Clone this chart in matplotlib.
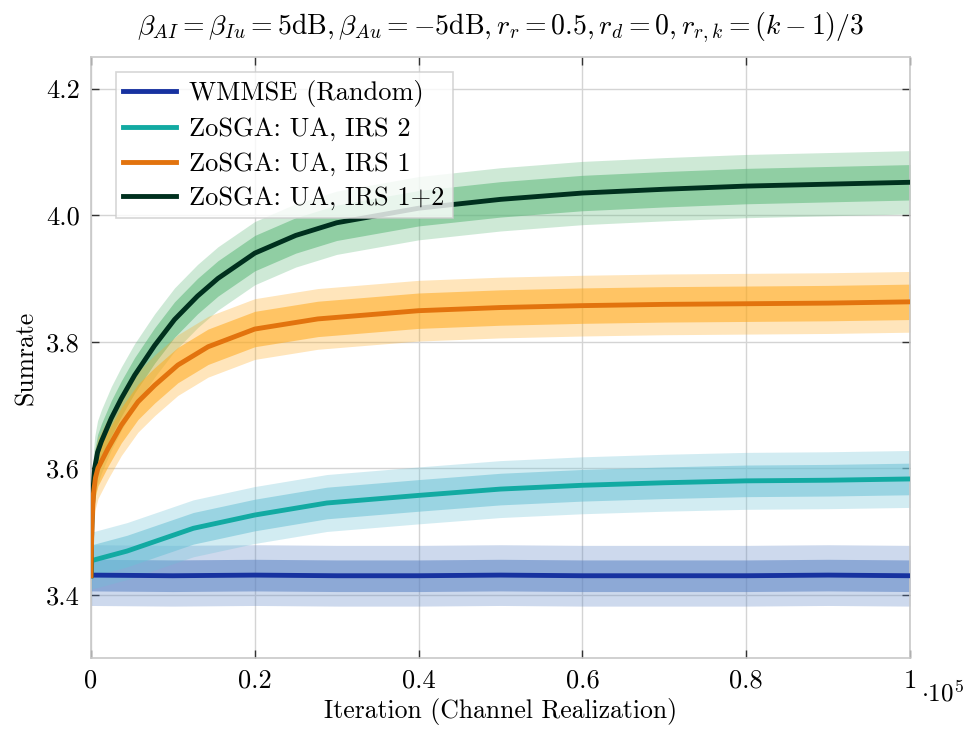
import matplotlib
matplotlib.use('Agg')
import matplotlib.pyplot as plt
from matplotlib.ticker import FixedLocator, FixedFormatter

plt.rcParams['font.family'] = 'serif'
plt.rcParams['font.serif'] = ['cmr10']
plt.rcParams['mathtext.fontset'] = 'cm'
plt.rcParams['axes.formatter.use_mathtext'] = True

# x in units of 1e5 iterations
x_wmmse = [0.0, 0.1, 0.2, 0.3, 0.4, 0.5, 0.6, 0.7, 0.8, 0.9, 1.0]
y_wmmse = [3.431, 3.430, 3.431, 3.430, 3.430, 3.431, 3.430, 3.430, 3.430, 3.431, 3.430]

x_irs2 = [0.0, 0.001, 0.044, 0.125, 0.2, 0.288, 0.4, 0.5, 0.6, 0.7, 0.8, 0.9, 1.0]
y_irs2 = [3.43, 3.454, 3.469, 3.505, 3.526, 3.545, 3.557, 3.567, 3.573, 3.577, 3.580, 3.581, 3.583]

x_irs1 = [0.0, 0.0005, 0.0015, 0.003, 0.0055, 0.0085, 0.0208, 0.037, 0.0574, 0.0777,
          0.106, 0.143, 0.2, 0.277, 0.4, 0.5, 0.6, 0.7, 0.8, 0.9, 1.0]
y_irs1 = [3.43, 3.47, 3.52, 3.56, 3.585, 3.600, 3.631, 3.668, 3.705, 3.731,
          3.763, 3.792, 3.820, 3.836, 3.849, 3.854, 3.857, 3.859, 3.860, 3.861, 3.863]

x_irs12 = [0.0, 0.0005, 0.0015, 0.003, 0.0045, 0.008, 0.0126, 0.0248, 0.037, 0.0533,
           0.0777, 0.102, 0.13, 0.155, 0.2, 0.25, 0.3, 0.4, 0.5, 0.6, 0.7, 0.8, 0.9, 1.0]
y_irs12 = [3.43, 3.48, 3.53, 3.575, 3.60, 3.625, 3.642, 3.679, 3.710, 3.747,
           3.794, 3.835, 3.872, 3.900, 3.940, 3.968, 3.988, 4.011, 4.025, 4.035,
           4.041, 4.046, 4.049, 4.052]

# spread of the noisy traces (half widths: core, spikes)
spread_wmmse = (0.025, 0.048)
spread_irs2 = (0.025, 0.045)
spread_irs1 = (0.028, 0.048)
spread_irs12 = (0.028, 0.050)

labels = ['WMMSE (Random)', 'ZoSGA: UA, IRS 2', 'ZoSGA: UA, IRS 1', 'ZoSGA: UA, IRS 1+2']
x_ticks = [0, 0.2, 0.4, 0.6, 0.8, 1.0]
x_tick_labels = ['0', '0.2', '0.4', '0.6', '0.8', '1']
y_ticks = [3.4, 3.6, 3.8, 4.0, 4.2]
y_tick_labels = ['3.4', '3.6', '3.8', '4.0', '4.2']

series = {
    'wmmse': (x_wmmse, y_wmmse, spread_wmmse, '#1732a0', '#5a82c4'),
    'irs2': (x_irs2, y_irs2, spread_irs2, '#12aaa2', '#6cc2d6'),
    'irs12': (x_irs12, y_irs12, spread_irs12, '#00301e', '#5db87a'),
    'irs1': (x_irs1, y_irs1, spread_irs1, '#e2730e', '#ffaa1e'),
}

fig = plt.figure(figsize=(9.71, 7.35), dpi=100)
ax = fig.add_axes([0.0937, 0.1048, 0.8435, 0.8176])

for xs, ys, (core, outer), c_line, c_band in series.values():
    lo_o = [v - outer for v in ys]
    hi_o = [v + outer for v in ys]
    lo_c = [v - core for v in ys]
    hi_c = [v + core for v in ys]
    ax.fill_between(xs, lo_o, hi_o, color=c_band, alpha=0.3, lw=0, zorder=2)
    ax.fill_between(xs, lo_c, hi_c, color=c_band, alpha=0.55, lw=0, zorder=2)

lines = {}
for key, (xs, ys, _, c_line, _) in series.items():
    lines[key], = ax.plot(xs, ys, color=c_line, lw=3.5, zorder=3,
                          solid_joinstyle='round')
handles = [lines['wmmse'], lines['irs2'], lines['irs1'], lines['irs12']]

ax.set_xlim(0, 1)
ax.set_ylim(3.3, 4.25)
ax.xaxis.set_major_locator(FixedLocator(x_ticks))
ax.xaxis.set_major_formatter(FixedFormatter(x_tick_labels))
ax.yaxis.set_major_locator(FixedLocator(y_ticks))
ax.yaxis.set_major_formatter(FixedFormatter(y_tick_labels))
ax.tick_params(direction='in', length=6, width=1, colors='#333333', labelsize=19,
               top=True, right=True, labelcolor='black', pad=8)
ax.grid(True, color='#d4d4d4', lw=1, zorder=0)
for s in ax.spines.values():
    s.set_color('#c8c8c8')
    s.set_linewidth(1.2)

ax.set_xlabel('Iteration (Channel Realization)', fontsize=18.5, labelpad=4)
ax.set_ylabel('Sumrate', fontsize=18.5, labelpad=6)
ax.set_title(r'$\beta_{AI} = \beta_{Iu} = 5\mathrm{dB}, \beta_{Au} = -5\mathrm{dB}, r_r = 0.5, r_d = 0, r_{r,k} = (k-1)/3$',
             fontsize=20, pad=16)
ax.text(1.013, -0.037, r'$\cdot 10^5$', transform=ax.transAxes, fontsize=18,
        ha='left', va='top')

leg = ax.legend(handles, labels, loc='upper left', bbox_to_anchor=(0.03, 0.975),
                borderaxespad=0, fontsize=19, fancybox=False, edgecolor='#cccccc',
                framealpha=0.8, handlelength=2.0, labelspacing=0.4,
                borderpad=0.3, handletextpad=0.5)
leg.get_frame().set_linewidth(1.2)

plt.savefig('out.png', dpi=100, facecolor='white')
plt.close()
